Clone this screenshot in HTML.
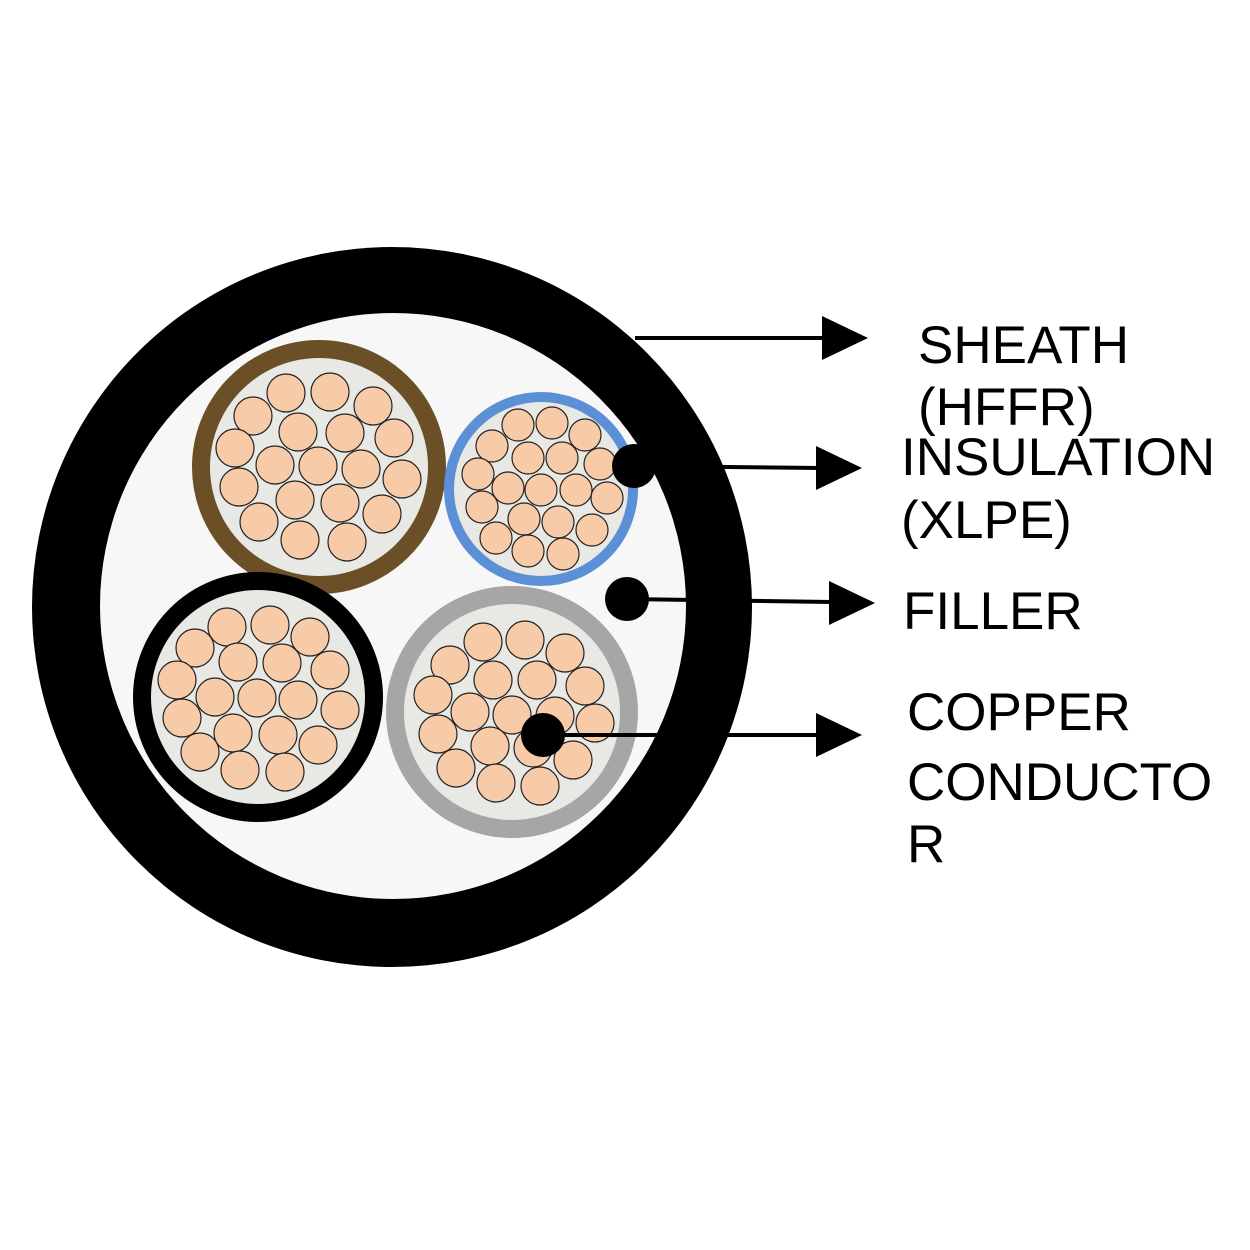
<!DOCTYPE html>
<html><head><meta charset="utf-8"><style>
html,body{margin:0;padding:0;background:#fff;}
svg{display:block;}
text{font-family:"Liberation Sans",Arial,sans-serif;font-size:53px;fill:#000;}
.s{fill:#f8cba8;stroke:#222;stroke-width:1.2;}
</style></head><body>
<svg width="1250" height="1250" viewBox="0 0 1250 1250">
<rect width="1250" height="1250" fill="#fff"/>
<circle cx="392" cy="607" r="360" fill="#000"/>
<circle cx="393" cy="606" r="293" fill="#f7f7f7"/>
<circle cx="319" cy="467" r="118" fill="#e8e8e4" stroke="#6b4f27" stroke-width="18"/>
<g class="s">
<circle cx="286" cy="393" r="19"/><circle cx="330" cy="392" r="19"/><circle cx="373" cy="406" r="19"/>
<circle cx="253" cy="416" r="19"/><circle cx="298" cy="432" r="19"/><circle cx="345" cy="433" r="19"/><circle cx="394" cy="438" r="19"/>
<circle cx="235" cy="448" r="19"/><circle cx="275" cy="465" r="19"/><circle cx="318" cy="466" r="19"/><circle cx="361" cy="469" r="19"/><circle cx="402" cy="479" r="19"/>
<circle cx="239" cy="487" r="19"/><circle cx="295" cy="500" r="19"/><circle cx="340" cy="503" r="19"/><circle cx="382" cy="514" r="19"/>
<circle cx="259" cy="522" r="19"/><circle cx="300" cy="540" r="19"/><circle cx="347" cy="542" r="19"/>
</g>
<circle cx="541" cy="489" r="92" fill="#e8e8e4" stroke="#5b8fd6" stroke-width="10"/>
<g class="s">
<circle cx="518" cy="425" r="16"/><circle cx="552" cy="423" r="16"/><circle cx="585" cy="435" r="16"/>
<circle cx="492" cy="446" r="16"/><circle cx="528" cy="458" r="16"/><circle cx="562" cy="458" r="16"/><circle cx="600" cy="464" r="16"/>
<circle cx="478" cy="474" r="16"/><circle cx="508" cy="488" r="16"/><circle cx="541" cy="490" r="16"/><circle cx="576" cy="490" r="16"/><circle cx="607" cy="498" r="16"/>
<circle cx="482" cy="507" r="16"/><circle cx="524" cy="519" r="16"/><circle cx="558" cy="522" r="16"/><circle cx="592" cy="530" r="16"/>
<circle cx="496" cy="538" r="16"/><circle cx="528" cy="551" r="16"/><circle cx="563" cy="554" r="16"/>
</g>
<circle cx="258" cy="697" r="116" fill="#e8e8e4" stroke="#000" stroke-width="18"/>
<g class="s">
<circle cx="227" cy="627" r="19"/><circle cx="270" cy="625" r="19"/><circle cx="310" cy="637" r="19"/>
<circle cx="195" cy="648" r="19"/><circle cx="238" cy="662" r="19"/><circle cx="282" cy="663" r="19"/><circle cx="330" cy="670" r="19"/>
<circle cx="177" cy="680" r="19"/><circle cx="215" cy="697" r="19"/><circle cx="257" cy="698" r="19"/><circle cx="298" cy="700" r="19"/><circle cx="340" cy="710" r="19"/>
<circle cx="182" cy="718" r="19"/><circle cx="233" cy="733" r="19"/><circle cx="278" cy="735" r="19"/><circle cx="318" cy="745" r="19"/>
<circle cx="200" cy="752" r="19"/><circle cx="240" cy="770" r="19"/><circle cx="285" cy="772" r="19"/>
</g>
<circle cx="512" cy="712" r="117" fill="#e8e8e4" stroke="#a6a6a6" stroke-width="18"/>
<g class="s">
<circle cx="483" cy="642" r="19"/><circle cx="525" cy="640" r="19"/><circle cx="565" cy="653" r="19"/>
<circle cx="450" cy="665" r="19"/><circle cx="493" cy="680" r="19"/><circle cx="537" cy="680" r="19"/><circle cx="585" cy="686" r="19"/>
<circle cx="433" cy="695" r="19"/><circle cx="470" cy="712" r="19"/><circle cx="512" cy="715" r="19"/><circle cx="555" cy="716" r="19"/><circle cx="595" cy="723" r="19"/>
<circle cx="438" cy="734" r="19"/><circle cx="490" cy="746" r="19"/><circle cx="533" cy="748" r="19"/><circle cx="573" cy="760" r="19"/>
<circle cx="456" cy="768" r="19"/><circle cx="496" cy="783" r="19"/><circle cx="540" cy="786" r="19"/>
</g>
<g stroke="#000" stroke-width="4">
<line x1="635" y1="338" x2="826" y2="338"/>
<line x1="634" y1="466" x2="820" y2="468"/>
<line x1="627" y1="599" x2="832" y2="602"/>
<line x1="543" y1="735" x2="820" y2="735"/>
</g>
<polygon points="822,316 868,338 822,360"/>
<polygon points="816,446 862,468 816,490"/>
<polygon points="829,581 875,603 829,625"/>
<polygon points="816,713 862,735 816,757"/>
<circle cx="634" cy="466" r="22"/>
<circle cx="627" cy="599" r="22"/>
<circle cx="543" cy="735" r="22"/>
<text x="918" y="363">SHEATH</text>
<text x="918" y="425">(HFFR)</text>
<text x="901" y="475">INSULATION</text>
<text x="901" y="538">(XLPE)</text>
<text x="903" y="629">FILLER</text>
<text x="907" y="730">COPPER</text>
<text x="907" y="800">CONDUCTO</text>
<text x="907" y="862">R</text>
</svg>
</body></html>
